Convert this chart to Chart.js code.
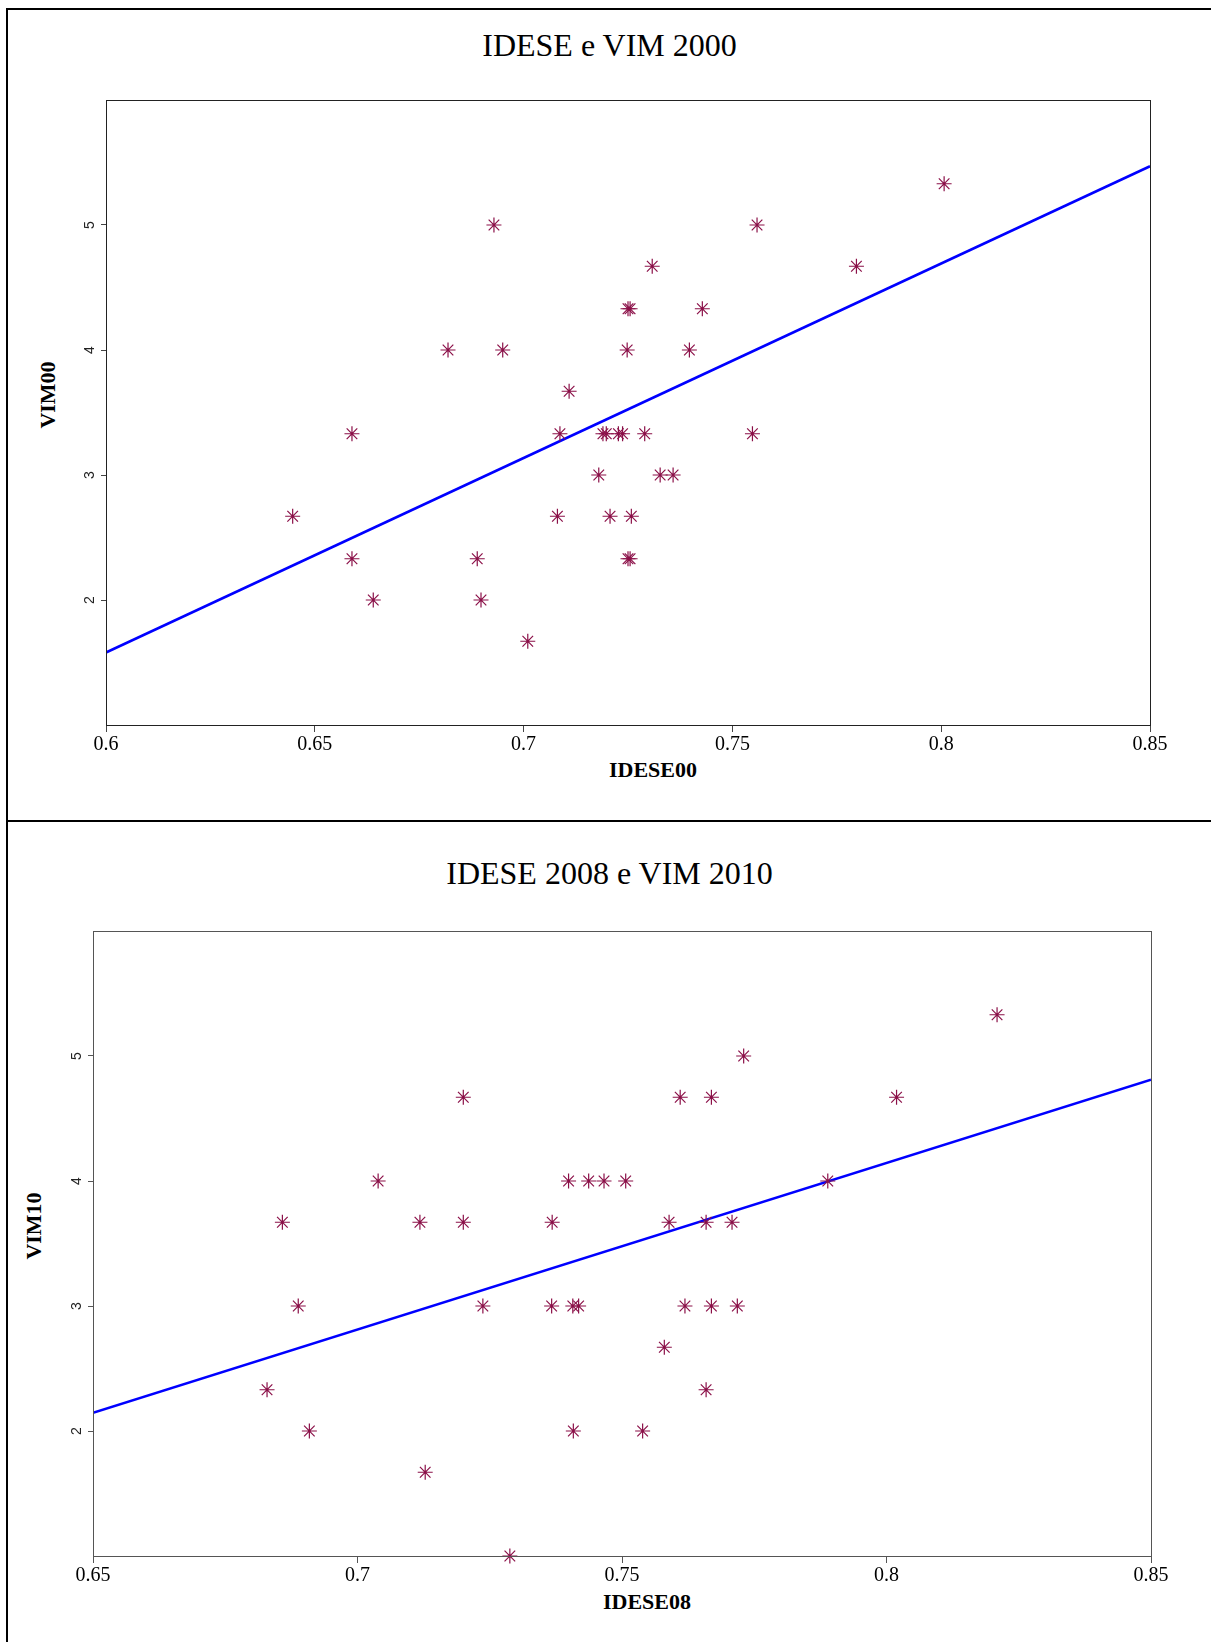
<!DOCTYPE html>
<html>
<head>
<meta charset="utf-8">
<script src="https://cdn.jsdelivr.net/npm/chart.js@4"></script>
<style>
  body { margin: 0; background: #fff; }
  #page { position: relative; width: 1211px; height: 1642px; overflow: hidden; background: #fff; }
  .rule { position: absolute; background: #000; }
  canvas { position: absolute; left: 0; }
  .title { position: absolute; left: 8px; right: 0; text-align: center; font: 32px/1 "Liberation Serif", serif; color: #000; }
  .xt { position: absolute; width: 200px; text-align: center; font: bold 22px/1 "Liberation Serif", serif; color: #000; }
  .yt { position: absolute; font: bold 22px/1 "Liberation Serif", serif; color: #000; white-space: nowrap; transform: translate(-50%, -50%) rotate(-90deg); }
</style>
</head>
<body>
<div id="page">
  <div class="rule" style="left:6px;top:8px;width:1205px;height:2px"></div>
  <div class="rule" style="left:6px;top:8px;width:2px;height:1634px"></div>
  <div class="rule" style="left:6px;top:820px;width:1205px;height:2px"></div>

  <div class="title" style="top:29px">IDESE e VIM 2000</div>
  <div class="xt" style="left:553px;top:759px">IDESE00</div>
  <div class="yt" style="left:48px;top:395px">VIM00</div>
  <canvas id="chart00" width="1211" height="821" style="top:0"></canvas>

  <div class="title" style="top:857px">IDESE 2008 e VIM 2010</div>
  <div class="xt" style="left:547px;top:1591px">IDESE08</div>
  <div class="yt" style="left:34px;top:1226px">VIM10</div>
  <canvas id="chart10" width="1211" height="821" style="top:821px"></canvas>
</div>
<script>
// IDESE 2000 x VIM 2000
const idese00 = [0.6447, 0.6589, 0.6589, 0.664, 0.6819, 0.6889, 0.6898, 0.6929, 0.695, 0.701,
  0.7081, 0.7087, 0.7109, 0.718, 0.719, 0.7198, 0.7207, 0.7227, 0.7237, 0.7248,
  0.725, 0.7255, 0.725, 0.7255, 0.7258, 0.729, 0.7308, 0.7327, 0.7358, 0.7397,
  0.7428, 0.7548, 0.7559, 0.7797, 0.8007];
const vim00 = [2.67, 3.33, 2.33, 2.0, 4.0, 2.33, 2.0, 5.0, 4.0, 1.67,
  2.67, 3.33, 3.67, 3.0, 3.33, 3.33, 2.67, 3.33, 3.33, 4.0,
  4.33, 4.33, 2.33, 2.33, 2.67, 3.33, 4.67, 3.0, 3.0, 4.0,
  4.33, 3.33, 5.0, 4.67, 5.33];
const fit00X = [0.6, 0.85];
const fit00Y = [1.58, 5.47];
const xTicks00 = [0.6, 0.65, 0.7, 0.75, 0.8, 0.85];

// IDESE 2008 x VIM 2010
const idese08 = [0.6829, 0.6858, 0.6888, 0.6909, 0.7039, 0.7118, 0.7128, 0.72, 0.72, 0.7237,
  0.7288, 0.7367, 0.7368, 0.7399, 0.7407, 0.7408, 0.7418, 0.7437, 0.7466, 0.7507,
  0.7539, 0.758, 0.7589, 0.761, 0.7619, 0.7659, 0.7659, 0.7669, 0.7669, 0.7708,
  0.7718, 0.773, 0.7889, 0.8019, 0.8209];
const vim10 = [2.33, 3.67, 3.0, 2.0, 4.0, 3.67, 1.67, 4.67, 3.67, 3.0,
  1.0, 3.0, 3.67, 4.0, 3.0, 2.0, 3.0, 4.0, 4.0, 4.0,
  2.0, 2.67, 3.67, 4.67, 3.0, 3.67, 2.33, 4.67, 3.0, 3.67,
  3.0, 5.0, 4.0, 4.67, 5.33];
const fit10X = [0.65, 0.85];
const fit10Y = [2.146, 4.81];
const xTicks10 = [0.65, 0.7, 0.75, 0.8, 0.85];

const yTicks = [2, 3, 4, 5];

function pts(xs, ys) {
  return xs.map(function (x, i) { return { x: x, y: ys[i] }; });
}

// box around the plot area
const frame = {
  id: "frame",
  afterDraw(chart, args, opts) {
    const a = chart.chartArea;
    const ctx = chart.ctx;
    ctx.save();
    ctx.strokeStyle = opts.color;
    ctx.lineWidth = 1;
    ctx.strokeRect(a.left + 0.5, a.top + 0.5, a.right - a.left, a.bottom - a.top);
    ctx.restore();
  }
};

function makeChart(id, xs, ys, fx, fy, xTicks, area, axisColor, frameColor) {
  const ctx = document.getElementById(id).getContext("2d");
  return new Chart(ctx, {
    type: "scatter",
    data: {
      datasets: [
        {
          data: pts(xs, ys),
          pointStyle: "star",
          pointRadius: 7.5,
          borderColor: "#8b1048",
          backgroundColor: "#8b1048",
          borderWidth: 1.2,
          clip: false
        },
        {
          type: "line",
          data: pts(fx, fy),
          borderColor: "#0000ff",
          borderWidth: 2.5,
          pointRadius: 0,
          fill: false,
          tension: 0
        }
      ]
    },
    options: {
      responsive: false,
      animation: false,
      devicePixelRatio: 1,
      layout: {
        padding: { left: 0, top: area.top, right: 1211 - area.right, bottom: 821 - area.bottom - 40 }
      },
      plugins: {
        legend: { display: false },
        tooltip: { enabled: false },
        frame: { color: frameColor }
      },
      scales: {
        x: {
          type: "linear",
          min: xTicks[0],
          max: xTicks[xTicks.length - 1],
          afterBuildTicks: function (s) { s.ticks = xTicks.map(function (v) { return { value: v }; }); },
          afterFit: function (s) { s.height = 40; },
          grid: { drawOnChartArea: false, drawTicks: true, tickLength: 7, color: axisColor },
          border: { display: true, color: axisColor },
          ticks: {
            padding: 1,
            autoSkip: false,
            maxRotation: 0,
            color: "#000",
            font: { family: "Liberation Serif", size: 20 },
            callback: function (v) { return String(v); }
          }
        },
        y: {
          type: "linear",
          min: 1,
          max: 6,
          afterBuildTicks: function (s) { s.ticks = yTicks.map(function (v) { return { value: v }; }); },
          afterFit: function (s) { s.width = area.left; },
          grid: { drawOnChartArea: false, drawTicks: true, tickLength: 5, color: axisColor },
          border: { display: true, color: axisColor },
          ticks: {
            padding: 7,
            crossAlign: "center",
            minRotation: 90,
            maxRotation: 90,
            color: "#222",
            font: { family: "Liberation Sans", size: 14 },
            callback: function (v) { return String(v); }
          }
        }
      }
    },
    plugins: [frame]
  });
}

makeChart("chart00", idese00, vim00, fit00X, fit00Y, xTicks00,
  { left: 106, right: 1150, top: 100, bottom: 725 }, "#444", "#222");
makeChart("chart10", idese08, vim10, fit10X, fit10Y, xTicks10,
  { left: 93, right: 1151, top: 110, bottom: 735 }, "#555", "#555");
</script>
</body>
</html>
